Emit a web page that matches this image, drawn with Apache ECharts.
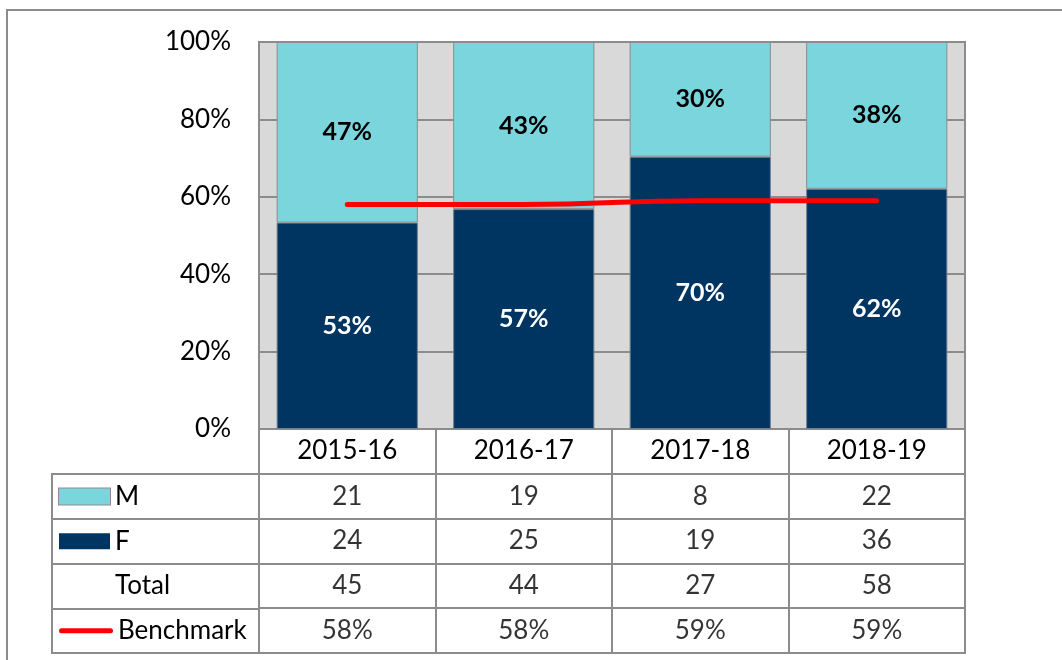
<!DOCTYPE html>
<html lang="en">
<head>
    <meta charset="UTF-8">
    <title>M / F by year</title>
    <script src="https://cdn.jsdelivr.net/npm/echarts@6/dist/echarts.min.js"></script>
    <style>
        html, body { margin: 0; padding: 0; background: #fff; }
    </style>
</head>
<body>
    <div id="main" style="width: 1062px; height: 660px;"></div>
    <script>
    const years = ['2015-16', '2016-17', '2017-18', '2018-19']
    const countM = [21, 19, 8, 22]
    const countF = [24, 25, 19, 36]
    const totals = [45, 44, 27, 58]
    const benchmark = [58, 58, 59, 59]
    const rowNames = ['M', 'F', 'Total', 'Benchmark']

    const colM = '#7ad5dd'
    const colF = '#003461'
    const grey = '#8c8c8c'
    const font = 'Lato'
    const fs = 26

    // 100% stacked shares
    const shareF = countF.map((v, i) => v / totals[i])
    const shareM = countM.map((v, i) => v / totals[i])
    const pct = v => Math.round(v * 100) + '%'

    // cells of the data table: [year, row, text]
    const cells = []
    years.forEach((y, i) => {
        cells.push([y, 'M', String(countM[i])])
        cells.push([y, 'F', String(countF[i])])
        cells.push([y, 'Total', String(totals[i])])
        cells.push([y, 'Benchmark', benchmark[i] + '%'])
    })

    const myChart = echarts.init(document.getElementById('main'))
    const option = {
        backgroundColor: '#fff',
        animation: false,
        textStyle: { fontFamily: font },
        graphic: [{
            type: 'rect',
            shape: { x: 7, y: 10, width: 1200, height: 800 },
            style: { fill: 'none', stroke: grey, lineWidth: 2 },
            silent: true
        }],
        grid: [
            // plot area
            { left: 259, top: 42, width: 706, height: 387, show: true,
              backgroundColor: '#d9d9d9', borderColor: grey, borderWidth: 2 },
            // data table, value columns (header row + 4 rows)
            { left: 259, top: 429, width: 706, height: 224, show: true,
              borderColor: grey, borderWidth: 2 },
            // data table, legend column
            { left: 52, top: 474, width: 207, height: 179, show: true,
              borderColor: grey, borderWidth: 2 }
        ],
        xAxis: [
            { gridIndex: 0, type: 'category', data: years,
              axisLine: { show: false }, axisTick: { show: false },
              axisLabel: { fontSize: fs, color: '#000', margin: 9, fontFamily: font } },
            { gridIndex: 1, type: 'category', data: years,
              axisLine: { show: false }, axisTick: { show: false }, axisLabel: { show: false },
              splitLine: { show: true, lineStyle: { color: grey, width: 2 } } },
            { gridIndex: 2, type: 'category', data: [''], show: false }
        ],
        yAxis: [
            { gridIndex: 0, type: 'value', min: 0, max: 1, interval: 0.2,
              axisLine: { show: true, lineStyle: { color: grey, width: 2 } },
              axisTick: { show: false },
              axisLabel: { formatter: pct, fontSize: fs, color: '#000', margin: 28, fontFamily: font },
              splitLine: { show: true, lineStyle: { color: grey, width: 2 } } },
            { gridIndex: 1, type: 'category', inverse: true, data: [''].concat(rowNames),
              axisLine: { show: false }, axisTick: { show: false }, axisLabel: { show: false },
              splitLine: { show: true, lineStyle: { color: grey, width: 2 } } },
            { gridIndex: 2, type: 'category', inverse: true, data: rowNames,
              axisLine: { show: false }, axisTick: { show: false },
              splitLine: { show: true, lineStyle: { color: grey, width: 2 } },
              axisLabel: {
                  inside: true, align: 'left', margin: 7,
                  formatter: function (v) {
                      if (v === 'M') return '{m|}{t|M}'
                      if (v === 'F') return '{f|}{t|F}'
                      if (v === 'Benchmark') return '{b|}{t|Benchmark}'
                      return '{n|}{t|' + v + '}'
                  },
                  rich: {
                      m: { width: 51, height: 16, backgroundColor: colM, borderColor: grey, borderWidth: 1 },
                      f: { width: 51, height: 16, backgroundColor: colF },
                      b: { width: 54, height: 5, backgroundColor: '#ff0000', borderRadius: 3 },
                      n: { width: 51, height: 16 },
                      t: { fontSize: fs, color: '#000', padding: [0, 0, 0, 5], fontFamily: font }
                  }
              } }
        ],
        series: [
            {
                name: 'F', type: 'bar', stack: 'all', xAxisIndex: 0, yAxisIndex: 0,
                data: shareF, barCategoryGap: '20%',
                itemStyle: { color: colF, borderColor: '#6f7f8f', borderWidth: 1 },
                label: { show: true, position: 'inside', formatter: p => pct(p.value),
                         color: '#fff', fontSize: 25, fontWeight: 'bold', fontFamily: font }
            },
            {
                name: 'M', type: 'bar', stack: 'all', xAxisIndex: 0, yAxisIndex: 0,
                data: shareM, barCategoryGap: '20%',
                itemStyle: { color: colM, borderColor: grey, borderWidth: 1 },
                label: { show: true, position: 'inside', formatter: p => pct(p.value),
                         color: '#000', fontSize: 25, fontWeight: 'bold', fontFamily: font }
            },
            {
                name: 'Benchmark', type: 'line', xAxisIndex: 0, yAxisIndex: 0,
                data: benchmark.map(v => v / 100), smooth: true,
                symbol: 'none', lineStyle: { color: '#ff0000', width: 5, cap: 'round' }
            },
            {
                name: 'table', type: 'scatter', xAxisIndex: 1, yAxisIndex: 1,
                data: cells, symbolSize: 0, silent: true,
                label: { show: true, position: 'inside', formatter: p => p.value[2],
                         color: '#000', fontSize: fs, fontFamily: font }
            }
        ]
    }
    myChart.setOption(option)
    </script>
</body>
</html>
